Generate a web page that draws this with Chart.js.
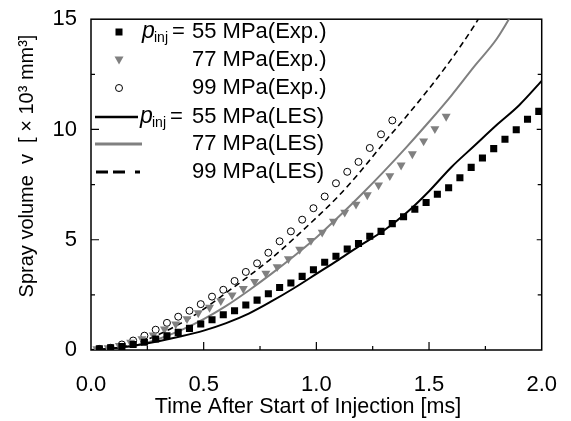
<!DOCTYPE html>
<html>
<head>
<meta charset="utf-8">
<script src="https://cdn.jsdelivr.net/npm/chart.js@4.4.0/dist/chart.umd.min.js"></script>
<style>
  html, body { margin: 0; padding: 0; background: #ffffff; }
  #wrap { width: 571px; height: 421px; position: relative; }
</style>
</head>
<body>
<div id="wrap"><canvas id="c" width="571" height="421"></canvas></div>
<script>
// ---- Experimental data (time in ms, spray volume in 10^3 mm^3) ----
const time55Exp = [0.037,0.087,0.137,0.187,0.237,0.287,0.337,0.387,0.437,0.487,0.537,0.587,0.637,0.687,0.737,0.787,0.837,0.887,0.937,0.987,1.037,1.087,1.137,1.187,1.237,1.287,1.337,1.387,1.437,1.487,1.537,1.587,1.637,1.687,1.737,1.787,1.837,1.887,1.937,1.987];
const vol55Exp  = [0.05,0.10,0.16,0.25,0.35,0.50,0.65,0.80,0.98,1.18,1.37,1.60,1.78,2.04,2.26,2.55,2.83,3.04,3.34,3.64,3.98,4.25,4.58,4.83,5.16,5.38,5.73,6.04,6.38,6.69,7.06,7.36,7.81,8.28,8.71,9.13,9.56,9.99,10.46,10.82];

const time77Exp = [0.026,0.076,0.126,0.176,0.226,0.276,0.326,0.376,0.426,0.476,0.526,0.576,0.626,0.676,0.726,0.776,0.826,0.876,0.926,0.976,1.026,1.076,1.126,1.176,1.226,1.276,1.326,1.376,1.426,1.476,1.526,1.576];
const vol77Exp  = [0.05,0.10,0.20,0.35,0.50,0.68,0.95,1.18,1.41,1.68,1.93,2.23,2.49,2.78,3.10,3.48,3.77,4.13,4.56,4.96,5.34,5.83,6.24,6.61,7.03,7.48,7.90,8.38,8.89,9.47,10.03,10.59];

const time99Exp = [0.037,0.087,0.137,0.187,0.237,0.287,0.337,0.387,0.437,0.487,0.537,0.587,0.637,0.687,0.737,0.787,0.837,0.887,0.937,0.987,1.037,1.087,1.137,1.187,1.237,1.287,1.337];
const vol99Exp  = [0.05,0.10,0.25,0.43,0.65,0.92,1.23,1.51,1.78,2.08,2.42,2.73,3.13,3.54,3.93,4.41,4.93,5.38,5.91,6.43,6.96,7.56,8.08,8.53,9.16,9.78,10.41];

// ---- LES data ----
const timeLES = [0,0.1,0.2,0.3,0.4,0.5,0.6,0.7,0.8,0.9,1.0,1.1,1.2,1.3,1.4,1.5,1.6,1.7,1.8,1.9,2.0];
const vol55LES = [0,0.08,0.22,0.40,0.62,0.88,1.22,1.65,2.20,2.80,3.45,4.10,4.78,5.42,6.22,7.20,8.30,9.25,10.20,11.10,12.20];
const vol77LES = [0,0.06,0.20,0.50,0.90,1.40,2.00,2.70,3.45,4.25,5.10,6.05,7.05,8.10,9.20,10.35,11.55,12.85,14.10,15.80,null];
const vol99LES = [0,0.08,0.30,0.70,1.22,1.85,2.60,3.35,4.15,5.05,6.00,7.00,8.15,9.40,10.60,11.85,13.20,14.70,16.40,null,null];

// ---- Axis ticks & labels ----
const xTicks = [0.0,0.5,1.0,1.5,2.0];
const xMinorTicks = [0.25,0.75,1.25,1.75];
const yTicks = [0,5,10,15];
const yMinorTicks = [2.5,7.5,12.5];
const xTitle = 'Time After Start of Injection [ms]';
const yTitle = 'Spray volume  v  [ \u00d7 10\u00b3 mm\u00b3]';
const legendRows = [
  {pre: true,  text: '55 MPa(Exp.)'},
  {pre: false, text: '77 MPa(Exp.)'},
  {pre: false, text: '99 MPa(Exp.)'},
  {pre: true,  text: '55 MPa(LES)'},
  {pre: false, text: '77 MPa(LES)'},
  {pre: false, text: '99 MPa(LES)'}
];

const FONT = '"Liberation Sans", Arial, Helvetica, sans-serif';
const GRAY = '#808080';

function pts(xs, ys) {
  const out = [];
  for (let i = 0; i < xs.length; i++) if (ys[i] !== null && ys[i] !== undefined) out.push({x: xs[i], y: ys[i]});
  return out;
}

const framePlugin = {
  id: 'frame',
  beforeDatasetsDraw(chart) {
    const {ctx, chartArea: a, scales: {x, y}} = chart;
    ctx.save();
    ctx.strokeStyle = '#000';
    ctx.lineWidth = 1.5;
    ctx.strokeRect(a.left, a.top, a.right - a.left, a.bottom - a.top);
    ctx.lineWidth = 1.2;
    ctx.beginPath();
    xTicks.forEach(v => { if (v > 0 && v < 2) { const px = x.getPixelForValue(v); ctx.moveTo(px, a.bottom); ctx.lineTo(px, a.bottom - 8); } });
    xMinorTicks.forEach(v => { const px = x.getPixelForValue(v); ctx.moveTo(px, a.bottom); ctx.lineTo(px, a.bottom - 4); });
    yTicks.forEach(v => { if (v > 0 && v < 15) { const py = y.getPixelForValue(v); ctx.moveTo(a.left, py); ctx.lineTo(a.left + 8, py); ctx.moveTo(a.right, py); ctx.lineTo(a.right - 5, py); } });
    yMinorTicks.forEach(v => { const py = y.getPixelForValue(v); ctx.moveTo(a.left, py); ctx.lineTo(a.left + 4, py); ctx.moveTo(a.right, py); ctx.lineTo(a.right - 4, py); });
    ctx.stroke();
    ctx.restore();
  },
  afterDraw(chart) {
    const {ctx} = chart;
    ctx.save();
    ctx.fillStyle = '#000';
    ctx.font = '21.5px ' + FONT;
    ctx.textAlign = 'center';
    ctx.textBaseline = 'middle';
    ctx.fillText(xTitle, 308, 407);
    ctx.save();
    ctx.font = '20px ' + FONT;
    ctx.translate(27, 166);
    ctx.rotate(-Math.PI / 2);
    ctx.fillText(yTitle, 0, 0);
    ctx.restore();

    const rowY = [32, 60, 88, 117, 144, 172];
    const mx = 119;
    ctx.fillStyle = '#000';
    ctx.fillRect(mx - 3.5, rowY[0] - 3.5, 7, 7);
    ctx.fillStyle = GRAY;
    ctx.beginPath();
    ctx.moveTo(mx - 4.5, rowY[1] - 3.5); ctx.lineTo(mx + 4.5, rowY[1] - 3.5); ctx.lineTo(mx, rowY[1] + 4.5); ctx.closePath(); ctx.fill();
    ctx.strokeStyle = '#000'; ctx.lineWidth = 1; ctx.fillStyle = '#fff';
    ctx.beginPath(); ctx.arc(mx, rowY[2], 3.5, 0, Math.PI * 2); ctx.fill(); ctx.stroke();
    ctx.lineWidth = 2.5; ctx.strokeStyle = '#000';
    ctx.beginPath(); ctx.moveTo(95, rowY[3]); ctx.lineTo(138, rowY[3]); ctx.stroke();
    ctx.lineWidth = 3; ctx.strokeStyle = GRAY;
    ctx.beginPath(); ctx.moveTo(95, rowY[4]); ctx.lineTo(142, rowY[4]); ctx.stroke();
    ctx.strokeStyle = '#000'; ctx.setLineDash([12, 5, 12, 10, 5, 100]);
    ctx.beginPath(); ctx.moveTo(96, rowY[5]); ctx.lineTo(141, rowY[5]); ctx.stroke();
    ctx.setLineDash([]);
    ctx.fillStyle = '#000';
    ctx.textAlign = 'left';
    ctx.textBaseline = 'middle';
    legendRows.forEach((r, i) => {
      const yy = rowY[i];
      ctx.font = '22px ' + FONT;
      ctx.fillText(r.text, 192, yy);
      if (r.pre) {
        const px = i === 0 ? 142 : 140;
        ctx.font = 'italic 23px ' + FONT;
        ctx.fillText('p', px, yy);
        ctx.font = '14px ' + FONT;
        ctx.fillText('inj', px + 12, yy + 6);
        ctx.font = '22px ' + FONT;
        ctx.fillText('=', px + 30, yy);
      }
    });
    ctx.restore();
  }
};

new Chart(document.getElementById('c'), {
  type: 'scatter',
  data: {
    datasets: [
      { label: '55 MPa(Exp.)', data: pts(time55Exp, vol55Exp), pointStyle: 'rect', pointRadius: 5, backgroundColor: '#000', borderColor: '#000', borderWidth: 0, showLine: false },
      { label: '77 MPa(Exp.)', data: pts(time77Exp, vol77Exp), pointStyle: 'triangle', rotation: 180, pointRadius: 5.2, backgroundColor: GRAY, borderColor: GRAY, borderWidth: 0, showLine: false },
      { label: '99 MPa(Exp.)', data: pts(time99Exp, vol99Exp), pointStyle: 'circle', pointRadius: 3.5, backgroundColor: '#fff', borderColor: '#000', borderWidth: 1, showLine: false },
      { label: '55 MPa(LES)', data: pts(timeLES, vol55LES), showLine: true, pointRadius: 0, borderColor: '#000', borderWidth: 2, cubicInterpolationMode: 'monotone' },
      { label: '77 MPa(LES)', data: pts(timeLES, vol77LES), showLine: true, pointRadius: 0, borderColor: GRAY, borderWidth: 2, cubicInterpolationMode: 'monotone' },
      { label: '99 MPa(LES)', data: pts(timeLES, vol99LES), showLine: true, pointRadius: 0, borderColor: '#000', borderWidth: 1.6, borderDash: [6, 4], cubicInterpolationMode: 'monotone' }
    ]
  },
  options: {
    responsive: false,
    animation: false,
    layout: { padding: { left: 0, top: 18, right: 27, bottom: 0 } },
    plugins: { legend: { display: false }, tooltip: { enabled: false } },
    scales: {
      x: {
        type: 'linear', min: 0, max: 2,
        afterFit: s => { s.height = 71; },
        afterBuildTicks: s => { s.ticks = xTicks.map(v => ({value: v})); },
        grid: { display: false }, border: { display: false },
        ticks: { color: '#000', font: { size: 22, family: FONT }, padding: 14, maxRotation: 0, callback: v => Number(v).toFixed(1) }
      },
      y: {
        type: 'linear', min: 0, max: 15,
        afterFit: s => { s.width = 91; },
        afterBuildTicks: s => { s.ticks = yTicks.map(v => ({value: v})); },
        grid: { display: false }, border: { display: false },
        ticks: { color: '#000', font: { size: 22, family: FONT }, padding: 6, callback: v => String(v) }
      }
    }
  },
  plugins: [framePlugin]
});
</script>
</body>
</html>
